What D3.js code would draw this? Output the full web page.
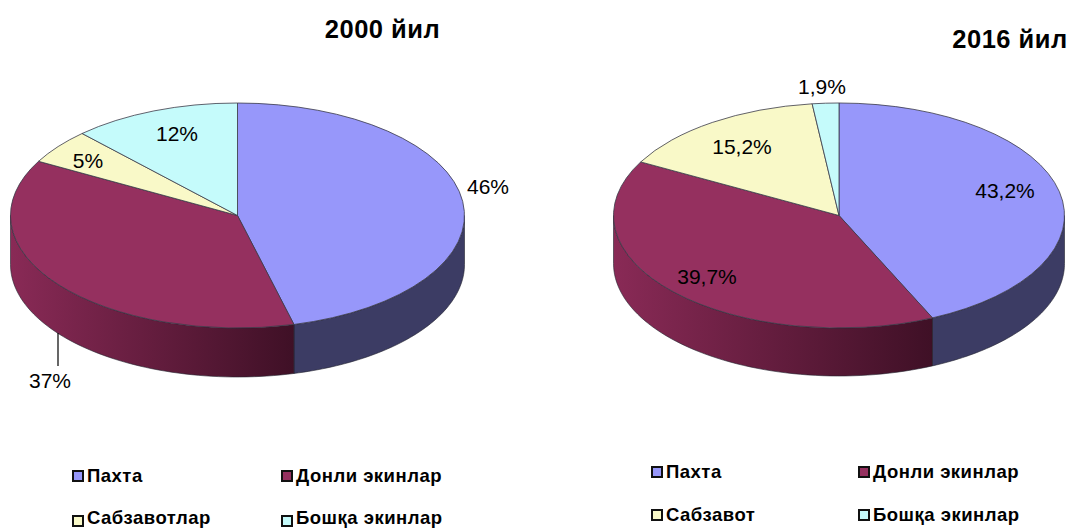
<!DOCTYPE html>
<html>
<head>
<meta charset="utf-8">
<style>
  html, body { margin: 0; padding: 0; background: #fff; }
  svg { display: block; font-family: "Liberation Sans", Arial, sans-serif; }
</style>
<script src="https://cdn.jsdelivr.net/npm/d3@7"></script>
</head>
<body>
<svg id="chart" width="1070" height="528"></svg>
<script>
'use strict'

const values2000 = [46, 37, 5, 12]
const labels2000 = ['46%', '37%', '5%', '12%']
const legend2000 = ['Пахта', 'Донли экинлар', 'Сабзавотлар', 'Бошқа экинлар']

const values2016 = [43.2, 39.7, 15.2, 1.9]
const labels2016 = ['43,2%', '39,7%', '15,2%', '1,9%']
const legend2016 = ['Пахта', 'Донли экинлар', 'Сабзавот', 'Бошқа экинлар']

const colors = ['#9797fa', '#95305f', '#f9f9c8', '#c5fbfb']

const charts = [
  {
    id: 'a', title: '2000 йил', titleX: 382.5, titleY: 38,
    values: values2000, labels: labels2000, legend: legend2000,
    cx: 237.5, cy: 215.5, rx: 227, ry: 112.5, depth: 49,
    labelAt: [[488, 194], [50, 388], [88, 168], [177, 141]],
    leader: [58, 333, 58, 366],
    legendX: [72, 281], legendY: [470, 515], legendBase: [482, 524]
  },
  {
    id: 'b', title: '2016 йил', titleX: 1010, titleY: 48,
    values: values2016, labels: labels2016, legend: legend2016,
    cx: 839, cy: 215.5, rx: 225.5, ry: 112.5, depth: 48,
    labelAt: [[1005, 198], [707, 284], [742, 154], [822, 94]],
    legendX: [651, 858], legendY: [466, 509], legendBase: [478, 521]
  }
]

const svg = d3.select('#chart')
const defs = svg.append('defs')

// the grain slice wall gets darker going right, the cotton one stays flat
function wallGradient (id, x1, x2) {
  const g = defs.append('linearGradient')
    .attr('id', id)
    .attr('gradientUnits', 'userSpaceOnUse')
    .attr('x1', x1).attr('x2', x2)
    .attr('y1', 0).attr('y2', 0)
  g.append('stop').attr('offset', '0%').attr('stop-color', '#892a56')
  g.append('stop').attr('offset', '100%').attr('stop-color', '#3f1026')
}

function drawPie (c) {
  const g = svg.append('g')
  const pie = d3.pie().sort(null).value(d => d)
  const arcs = pie(c.values)
  const arc = d3.arc().innerRadius(0).outerRadius(c.rx)

  const px = a => c.cx + c.rx * Math.sin(a)
  const py = a => c.cy - c.ry * Math.cos(a)

  // side walls, only the front half of the ellipse (angles PI/2 .. 3PI/2)
  const wallFill = ['#3c3c64', 'url(#wall-' + c.id + ')', '#8a8a70', '#80a0a0']
  wallGradient('wall-' + c.id, c.cx - c.rx, px(arcs[1].startAngle))

  arcs.forEach((d, i) => {
    const from = Math.max(d.startAngle, Math.PI / 2)
    const to = Math.min(d.endAngle, Math.PI * 1.5)
    if (from >= to) return
    const steps = d3.range(0, 61).map(k => from + (to - from) * k / 60)
    const top = steps.map(a => [px(a), py(a)])
    const bottom = steps.slice().reverse().map(a => [px(a), py(a) + c.depth])
    g.append('path')
      .attr('d', d3.line()(top.concat(bottom)) + 'Z')
      .attr('fill', wallFill[i])
      .attr('stroke', '#22222e')
      .attr('stroke-width', 0.6)
  })

  // top face, a flat circle squashed into an ellipse
  g.append('g')
    .attr('transform', `translate(${c.cx},${c.cy}) scale(1,${c.ry / c.rx})`)
    .selectAll('path')
    .data(arcs)
    .join('path')
    .attr('d', arc)
    .attr('fill', (d, i) => colors[i])
    .attr('stroke', '#3a3a48')
    .attr('stroke-width', 0.8)
    .attr('vector-effect', 'non-scaling-stroke')

  if (c.leader) {
    g.append('line')
      .attr('x1', c.leader[0]).attr('y1', c.leader[1])
      .attr('x2', c.leader[2]).attr('y2', c.leader[3])
      .attr('stroke', '#000').attr('stroke-width', 1.2)
  }

  g.selectAll('text.label')
    .data(c.labels)
    .join('text')
    .attr('class', 'label')
    .attr('x', (d, i) => c.labelAt[i][0])
    .attr('y', (d, i) => c.labelAt[i][1])
    .attr('text-anchor', 'middle')
    .attr('font-size', 21)
    .attr('fill', '#000')
    .text(d => d)

  svg.append('text')
    .attr('x', c.titleX).attr('y', c.titleY)
    .attr('text-anchor', 'middle')
    .attr('font-size', 25.5)
    .attr('font-weight', 'bold')
    .attr('letter-spacing', 0.5)
    .text(c.title)

  // legend is two by two
  c.legend.forEach((name, i) => {
    const x = c.legendX[i % 2]
    const y = c.legendY[Math.floor(i / 2)]
    svg.append('rect')
      .attr('x', x + 1).attr('y', y + 1)
      .attr('width', 10).attr('height', 10)
      .attr('fill', colors[i])
      .attr('stroke', '#111')
      .attr('stroke-width', 2)
    svg.append('text')
      .attr('x', x + 15).attr('y', c.legendBase[Math.floor(i / 2)])
      .attr('font-size', 18.5)
      .attr('font-weight', 'bold')
      .attr('letter-spacing', 0.5)
      .text(name)
  })
}

charts.forEach(drawPie)
</script>
</body>
</html>
